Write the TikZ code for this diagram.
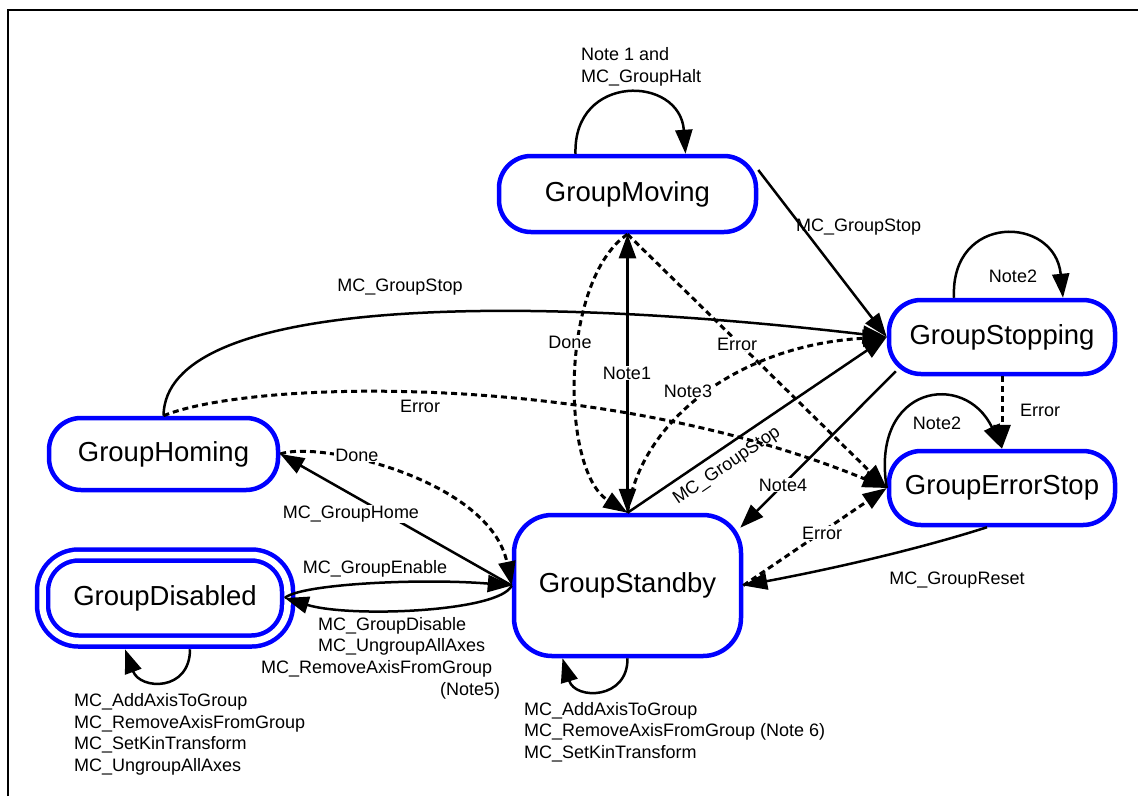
\documentclass[tikz,border=0pt]{standalone}
\usepackage{fontspec}
\setmainfont{Liberation Sans}
\usetikzlibrary{arrows.meta,calc}

\begin{document}
\begin{tikzpicture}[x=1pt,y=-1pt,
  stbox/.style={draw=blue, line width=4.5pt, rounded corners=32pt, fill=white,
    font=\fontsize{27.5}{32}\selectfont, inner sep=0pt},
  lbl/.style={font=\fontsize{18}{21.6}\selectfont, inner sep=1pt},
  wlbl/.style={lbl, fill=white},
  tip/.tip={Triangle[length=24pt,width=17pt]},
  arr/.style={line width=2.5pt, -tip},
  darr/.style={line width=3pt, -tip, dash pattern=on 6pt off 4pt},
]
\useasboundingbox (0,0) rectangle (1138,796);

% frame
\draw[line width=2.8pt, line join=miter] (8,796) -- (8,10) -- (1138,10);

% states
\node[stbox, minimum width=257pt, minimum height=76pt] (mov) at (627.5,194) {GroupMoving};
\node[stbox, minimum width=226pt, minimum height=74pt] (stop) at (1002,337) {GroupStopping};
\node[stbox, minimum width=226pt, minimum height=74pt] (err) at (1002,488) {GroupErrorStop};
\node[stbox, minimum width=229pt, minimum height=72pt] (hom) at (163.5,454) {GroupHoming};
\node[stbox, minimum width=227pt, minimum height=141pt, rounded corners=38pt] (sb) at (627.5,585.5) {GroupStandby};
\node[stbox, double=white, double distance=6.5pt, minimum width=245pt, minimum height=86pt,
  rounded corners=36pt] (dis) at (165,598) {GroupDisabled};

% GroupMoving self loop
\draw[arr] ([xshift=-52pt]mov.north) .. controls (573,73) and (680,75) .. ([xshift=58pt]mov.north);
\node[lbl, anchor=west, align=left] (lmovloop) at (580,67) {Note 1 and\\MC\_GroupHalt};

% GroupMoving -> GroupStopping
\draw[arr] ([yshift=24pt]mov.east) -- (stop.west);
\node[lbl, anchor=west] (lmovstop) at (795,227) {MC\_GroupStop};

% GroupStopping self loop
\draw[arr] ([xshift=-48pt]stop.north) .. controls (950,213) and (1055,215) .. ([xshift=61pt]stop.north);
\node[lbl] (lstoploop) at (1013,276) {Note2};

% GroupHoming -> GroupStopping
\draw[arr] (hom.north) .. controls (165,300) and (500,292) .. (stop.west);
\node[lbl] (lhomstop) at (400,287) {MC\_GroupStop};

% GroupHoming -> GroupErrorStop
\draw[darr] (hom.north) .. controls (250,380) and (600,370) .. (err.west);
\node[lbl] (lhomerr) at (420,406) {Error};

% GroupStandby -> GroupHoming
\draw[arr] (sb.west) -- (hom.east);
\node[wlbl] (lhome) at (351,514) {MC\_GroupHome};

% GroupHoming -> GroupStandby
\draw[darr] (hom.east) .. controls (320,440) and (490,480) .. (sb.west);
\node[wlbl] (lhomdone) at (357,455) {Done};

% GroupDisabled <-> GroupStandby
\draw[arr] ([xshift=-5pt]dis.east) .. controls (300,584) and (420,578) .. (sb.west);
\node[lbl] (lenable) at (375,569) {MC\_GroupEnable};
\draw[arr] (sb.west) .. controls (500,612) and (350,618) .. ([xshift=-5pt]dis.east);
\node[lbl, anchor=west, align=left] (ldisable) at (260,658)
  {\hspace*{57pt}MC\_GroupDisable\\\hspace*{57pt}MC\_UngroupAllAxes\\MC\_RemoveAxisFromGroup\\\hspace*{179pt}(Note5)};

% GroupDisabled self loop
\draw[arr] ([xshift=25pt,yshift=-6pt]dis.south) .. controls (190,692) and (140,690) .. ([xshift=-40pt,yshift=-6pt]dis.south);
\node[lbl, anchor=west, align=left] (ldisloop) at (73,734.5)
  {MC\_AddAxisToGroup\\MC\_RemoveAxisFromGroup\\MC\_SetKinTransform\\MC\_UngroupAllAxes};

% GroupStandby self loop
\draw[arr] (sb.south) .. controls (628,700) and (575,700) .. ([xshift=-65pt]sb.south);
\node[lbl, anchor=west, align=left] (lsbloop) at (523,732)
  {MC\_AddAxisToGroup\\MC\_RemoveAxisFromGroup (Note 6)\\MC\_SetKinTransform};

% GroupStandby <-> GroupMoving
\draw[line width=2.5pt, tip-tip] (sb.north) -- (mov.south);
\node[wlbl] (lnote1) at (627,373) {Note1};
\draw[darr] (mov.south) .. controls (560,280) and (560,470) .. (sb.north);
\node[wlbl] (lmovdone) at (570,342) {Done};

% GroupStandby -> GroupStopping
\draw[darr] (sb.north) .. controls (640,420) and (740,345) .. (stop.west);
\node[wlbl] (lnote3) at (688,391) {Note3};
\draw[arr] (sb.north) -- (stop.west);
\node[lbl, rotate=34.3] (lsbstop) at (727,466) {MC\_GroupStop};

% GroupMoving -> GroupErrorStop
\draw[darr] (mov.south) -- (err.west);
\node[wlbl] (lmoverr) at (737,344) {Error};

% GroupStopping -> GroupStandby
\draw[arr] ($(stop.south west)+(9,-5)$) -- ($(sb.north east)+(-3,15)$);
\node[wlbl] (lnote4) at (783,485) {Note4};

% GroupStopping -> GroupErrorStop
\draw[darr] (stop.south) -- (err.north);
\node[lbl] (lstoperr) at (1040,410) {Error};

% GroupErrorStop self loop
\draw[arr] (err.west) .. controls (870,385) and (965,370) .. (err.north);
\node[lbl] (lerrloop) at (937,423) {Note2};

% GroupStandby -> GroupErrorStop
\draw[darr] (sb.east) -- (err.west);
\node[wlbl] (lsberr) at (822,533) {Error};

% GroupErrorStop -> GroupStandby
\draw[arr] ($(err.south)+(-15,0)$) .. controls (900,555) and (800,575) .. (sb.east);
\node[lbl] (lreset) at (957,580) {MC\_GroupReset};
\end{tikzpicture}
\end{document}
